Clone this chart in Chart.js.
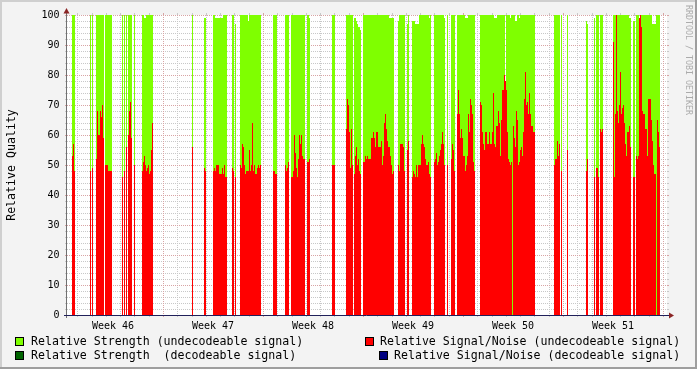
<!DOCTYPE html>
<html><head><meta charset="utf-8">
<script src="https://cdn.jsdelivr.net/npm/chart.js@4.4.1/dist/chart.umd.min.js"></script>
<style>html,body{margin:0;padding:0;background:#f3f3f3;overflow:hidden}canvas{display:block}</style>
</head><body>
<canvas id="c" width="697" height="369"></canvas>
<script>
// ---- data ----
const SAMPLE_DAYS = 0.07;          // one RRD sample = 1.68 h
const FIRST_SAMPLE_DAY = -6.72;    // days relative to the start of Week 47
const X_MIN = -6.72, X_MAX = 35.28;
const weekLabels = ['Week 46','Week 47','Week 48','Week 49','Week 50','Week 51'];
const weekLabelDays = [-3.5, 3.5, 10.5, 17.5, 24.5, 31.5];
const weekStartDays = [0, 7, 14, 21, 28, 35];
const yTicks = [0,10,20,30,40,50,60,70,80,90,100];
const legendLabels = [
  'Relative Strength (undecodeable signal)',
  'Relative Signal/Noise (undecodeable signal)',
  'Relative Strength  (decodeable signal)',
  'Relative Signal/Noise (decodeable signal)'
];
const COLORS = {strengthUndec:'#7FFF00', snUndec:'#FF0000', strengthDec:'#006400', snDec:'#000080'};

// [first sample index, values of consecutive samples]
const strengthUndecodeable = [
  [5,[100,100,100]],[23,[100]],[25,[100]],[29,[100,100,100,100,100,100,100,100]],
  [38,[100,100,100,100,100,100,100]],[55,[100]],[57,[100]],[59,[100]],[61,[100,100,100,100]],[67,[100]],
  [75,[100,100,99,99,100,100,100,100,100,100,100]],
  [125,[100]],[137,[99,99]],
  [146,[100,100,99,99,99,99,99,99,99,99,100,100,100,100]],
  [165,[100,100]],[168,[97]],
  [173,[100,100,100,100,100,100,100,100,98,100,100,100,100,100,100,100,100,100,100,100,100]],
  [206,[100,100,100,100]],[218,[100,100,100,100]],
  [224,[100,100,100,100,100,100,100,100,100,100,100,100,100,100]],
  [240,[100,100,99]],[265,[100,100,100]],[279,[100,100,100,100,100,100,100]],
  [287,[99,99,98,97,96,96,95]],
  [296,[100,100,100,100,100,100,100,100,100,100,100,100,100,100,100,100,100,100,100,100,100,100,100,100,100,100,99,99,99,99,99]],
  [331,[98,100,100,100,100,100,100]],[340,[97,100]],
  [345,[98,98,98,97,97,97,97,100,100,100,100,100,100,100,100,100,100,99,100]],
  [367,[100,100,100,100,100,100,100,100,100,100,99]],[380,[100]],[384,[100,100,100,100]],
  [390,[100,100,100,100,100,100,100,100,99,99,99,100,100,100,100,100,100,100]],
  [413,[100,100,100,100,100,100,100,100,100,100,100,100,100,100,99,99,99,100,100,100,100,100,100,100,100]],
  [439,[100,100,100,100,99,100,100,100,100,98,98,100,100,99,100,100,100,100,100,100,100,100,100,100,100,100,100,100,100]],
  [487,[100,100,100,100,100,100]],[494,[100]],[500,[100]],[519,[98,97]],[527,[99]],
  [529,[100,100,100]],[533,[100,100,100]],
  [546,[100,100,100,100,100,100,100,100,100,100,100,100,100,100,100,100,99,99]],
  [566,[98,98]],
  [569,[100,100,100,99,99,100,100,100,100,100,100,100,100,100,100,100]],
  [585,[97,97,97,97,100,100,100,100]]
];
const snUndecodeable = [
  [5,[53,57,48]],[23,[48]],[25,[49]],[29,[52,68,60,60,68,66,70,59]],
  [38,[50,50,50,48,48,48,48]],[55,[46]],[57,[48]],[59,[56]],[61,[60,68,71,59]],[67,[50]],
  [75,[48,51,53,50,48,49,50,47,48,55,64]],
  [125,[56]],[137,[49,48]],
  [146,[48,49,48,50,50,50,47,47,47,49,47,50,46,46]],
  [165,[49,48]],[168,[46]],
  [173,[50,49,57,56,50,47,48,48,48,55,48,50,64,48,50,47,47,49,50,49,50]],
  [206,[48,48,47,47]],[218,[50,48,49,51]],
  [224,[46,46,48,60,54,49,46,52,60,57,60,53,52,52]],
  [240,[51,51,52]],[265,[50,50,50]],[279,[62,72,70,61,49,62,50]],
  [287,[47,53,56,50,52,48,47]],
  [296,[51,51,53,52,53,52,52,52,59,59,61,59,56,61,61,56,56,56,58,50,53,64,67,62,58,56,56,53,50,47,48]],
  [331,[50,48,57,57,57,56,48]],[340,[55,58]],
  [345,[46,48,47,46,50,46,50,50,50,57,60,57,56,52,50,50,51,47,46]],
  [367,[51,52,54,50,51,53,55,57,61,57,50]],[380,[50]],[384,[52,57,55,48]],
  [390,[67,75,67,59,62,59,53,53,48,50,53,67,61,72,70,67,51,48]],
  [413,[71,70,61,57,55,61,61,57,57,61,57,57,61,74,57,56,63,63,68,64,53,65,75,75,80,78,75,61,52,51,50,51]],
  [446,[63,59,56,68,65,50,51,55,56,53,61,72,81,70,71,67,74,67,63,63,61,61]],
  [487,[50,52,52,58,53,57]],[494,[48]],[500,[55]],[519,[48,52]],[527,[46]],
  [529,[49,49,46]],[533,[62,61,62]],
  [546,[91,46,67,100,68,64,70,81,67,69,70,64,57,53,61,61,63,56]],
  [566,[46,46]],
  [569,[53,52,53,99,100,96,68,67,67,62,62,53,72,72,72,65]],
  [585,[58,50,47,47]],[590,[65,61,56]]
];

// ---- build stepped series ----
function dayOf(sample){ return +(FIRST_SAMPLE_DAY + sample*SAMPLE_DAYS).toFixed(4); }
function buildPoints(runs){
  const pts = [];
  for (const [start, vals] of runs){
    vals.forEach((v,k)=>pts.push({x:dayOf(start+k), y:v}));
    const end = dayOf(start+vals.length);
    pts.push({x:end, y:vals[vals.length-1]});
    pts.push({x:end, y:null});
  }
  return pts;
}

const FONT = 'DejaVu Sans Mono';
const W = 697, H = 369;

const rrdPlugin = {
  id:'rrd',
  beforeDraw(chart){
    const {ctx, chartArea:a, scales:{x,y}} = chart;
    ctx.save();
    ctx.fillStyle = '#F3F3F3'; ctx.fillRect(0,0,W,H);
    ctx.fillStyle = '#CFCFCF'; ctx.fillRect(0,0,W,2); ctx.fillRect(0,0,2,H);
    ctx.fillStyle = '#9E9E9E'; ctx.fillRect(0,H-2,W,2); ctx.fillRect(W-2,0,2,H);
    ctx.fillStyle = '#FFFFFF'; ctx.fillRect(a.left,a.top,a.right-a.left,a.bottom-a.top);
    ctx.lineWidth = 1;
    const minorC = '#C8C8C8', majorC = '#D8A4A4';
    function hLine(val, color){
      const py = Math.round(y.getPixelForValue(val)) + 0.5;
      ctx.strokeStyle = color;
      ctx.setLineDash([1,1]);
      ctx.beginPath(); ctx.moveTo(a.left, py); ctx.lineTo(a.right, py); ctx.stroke();
      ctx.setLineDash([]);
      ctx.beginPath(); ctx.moveTo(a.left-2, py); ctx.lineTo(a.left, py);
      ctx.moveTo(a.right, py); ctx.lineTo(a.right+2, py); ctx.stroke();
    }
    function vLine(val, color){
      const px = Math.round(x.getPixelForValue(val)) + 0.5;
      ctx.strokeStyle = color;
      ctx.setLineDash([1,1]);
      ctx.beginPath(); ctx.moveTo(px, a.top); ctx.lineTo(px, a.bottom); ctx.stroke();
      ctx.setLineDash([]);
      ctx.beginPath(); ctx.moveTo(px, a.top-2); ctx.lineTo(px, a.top);
      ctx.moveTo(px, a.bottom); ctx.lineTo(px, a.bottom+2); ctx.stroke();
    }
    for (let v=2; v<100; v+=2) if (v%10) hLine(v, minorC);
    for (let d=Math.ceil(X_MIN); d<=X_MAX; d++) if (!weekStartDays.includes(d)) vLine(d, minorC);
    yTicks.forEach(v=>hLine(v, majorC));
    weekStartDays.forEach(d=>vLine(d, majorC));
    ctx.restore();
  },
  afterDatasetsDraw(chart){
    const {ctx, chartArea:a} = chart;
    ctx.save();
    // axes
    ctx.lineWidth = 1;
    ctx.strokeStyle = '#707070';
    ctx.beginPath(); ctx.moveTo(a.left-0.5, a.top-3); ctx.lineTo(a.left-0.5, a.bottom+3); ctx.stroke();
    ctx.strokeStyle = '#20205A';
    ctx.beginPath(); ctx.moveTo(a.left-3, a.bottom+0.5); ctx.lineTo(a.right+2, a.bottom+0.5); ctx.stroke();
    ctx.fillStyle = '#8B2525';
    ctx.beginPath(); ctx.moveTo(a.left-3.5, a.top-1.5); ctx.lineTo(a.left+2.5, a.top-1.5); ctx.lineTo(a.left-0.5, a.top-7); ctx.closePath(); ctx.fill();
    ctx.beginPath(); ctx.moveTo(a.right+2, a.bottom-2.5); ctx.lineTo(a.right+2, a.bottom+3.5); ctx.lineTo(a.right+7, a.bottom+0.5); ctx.closePath(); ctx.fill();
    // legend
    const items = [
      {t:legendLabels[0], c:COLORS.strengthUndec, bx:15, tx:31, row:0},
      {t:legendLabels[1], c:COLORS.snUndec, bx:365, tx:380, row:0},
      {t:legendLabels[2], c:COLORS.strengthDec, bx:15, tx:31, row:1},
      {t:legendLabels[3], c:COLORS.snDec, bx:379, tx:394, row:1}
    ];
    ctx.font = '11.6px "' + FONT + '"';
    ctx.textBaseline = 'alphabetic';
    items.forEach(it=>{
      const by = 337 + it.row*14;
      ctx.fillStyle = it.c; ctx.fillRect(it.bx, by, 9, 9);
      ctx.strokeStyle = '#000'; ctx.strokeRect(it.bx+0.5, by+0.5, 8, 8);
      ctx.fillStyle = '#000'; ctx.fillText(it.t, it.tx, 345 + it.row*14);
    });
    // watermark
    ctx.translate(688.5, 5);
    ctx.rotate(Math.PI/2);
    ctx.font = '8.3px "' + FONT + '"';
    ctx.fillStyle = '#ABABAB';
    ctx.textBaseline = 'middle';
    ctx.fillText('RRDTOOL / TOBI OETIKER', 0, 0);
    ctx.restore();
  }
};

new Chart(document.getElementById('c'), {
  type:'line',
  data:{datasets:[
    {label:legendLabels[1], data:buildPoints(snUndecodeable), backgroundColor:COLORS.snUndec, borderColor:'rgba(0,0,0,0)', borderWidth:0,
     fill:'origin', stepped:true, pointRadius:0, pointHoverRadius:0, spanGaps:false, order:0},
    {label:legendLabels[0], data:buildPoints(strengthUndecodeable), backgroundColor:COLORS.strengthUndec, borderColor:'rgba(0,0,0,0)', borderWidth:0,
     fill:'origin', stepped:true, pointRadius:0, pointHoverRadius:0, spanGaps:false, order:1}
  ]},
  options:{
    responsive:false, animation:false, devicePixelRatio:1,
    layout:{padding:{top:15, right:30, bottom:0, left:0}},
    plugins:{legend:{display:false}, tooltip:{enabled:false}},
    scales:{
      x:{type:'linear', min:X_MIN, max:X_MAX,
        grid:{display:false, drawTicks:false}, border:{display:false},
        afterBuildTicks:s=>{ s.ticks = weekLabelDays.map(v=>({value:v})); },
        afterFit:s=>{ s.height = 54; },
        ticks:{autoSkip:false, maxRotation:0, minRotation:0, padding:5, color:'#000',
          font:{family:FONT, size:10}, callback:(v,i)=>weekLabels[i]}
      },
      y:{min:0, max:100,
        grid:{display:false, drawTicks:false}, border:{display:false},
        afterBuildTicks:s=>{ s.ticks = yTicks.map(v=>({value:v})); },
        afterFit:s=>{ s.width = 67; },
        ticks:{padding:7.5, color:'#000', font:{family:FONT, size:10}},
        title:{display:true, text:'Relative Quality', color:'#000', font:{family:FONT, size:11.6}, padding:{top:5, bottom:0}}
      }
    }
  },
  plugins:[rrdPlugin]
});
</script>
</body></html>
